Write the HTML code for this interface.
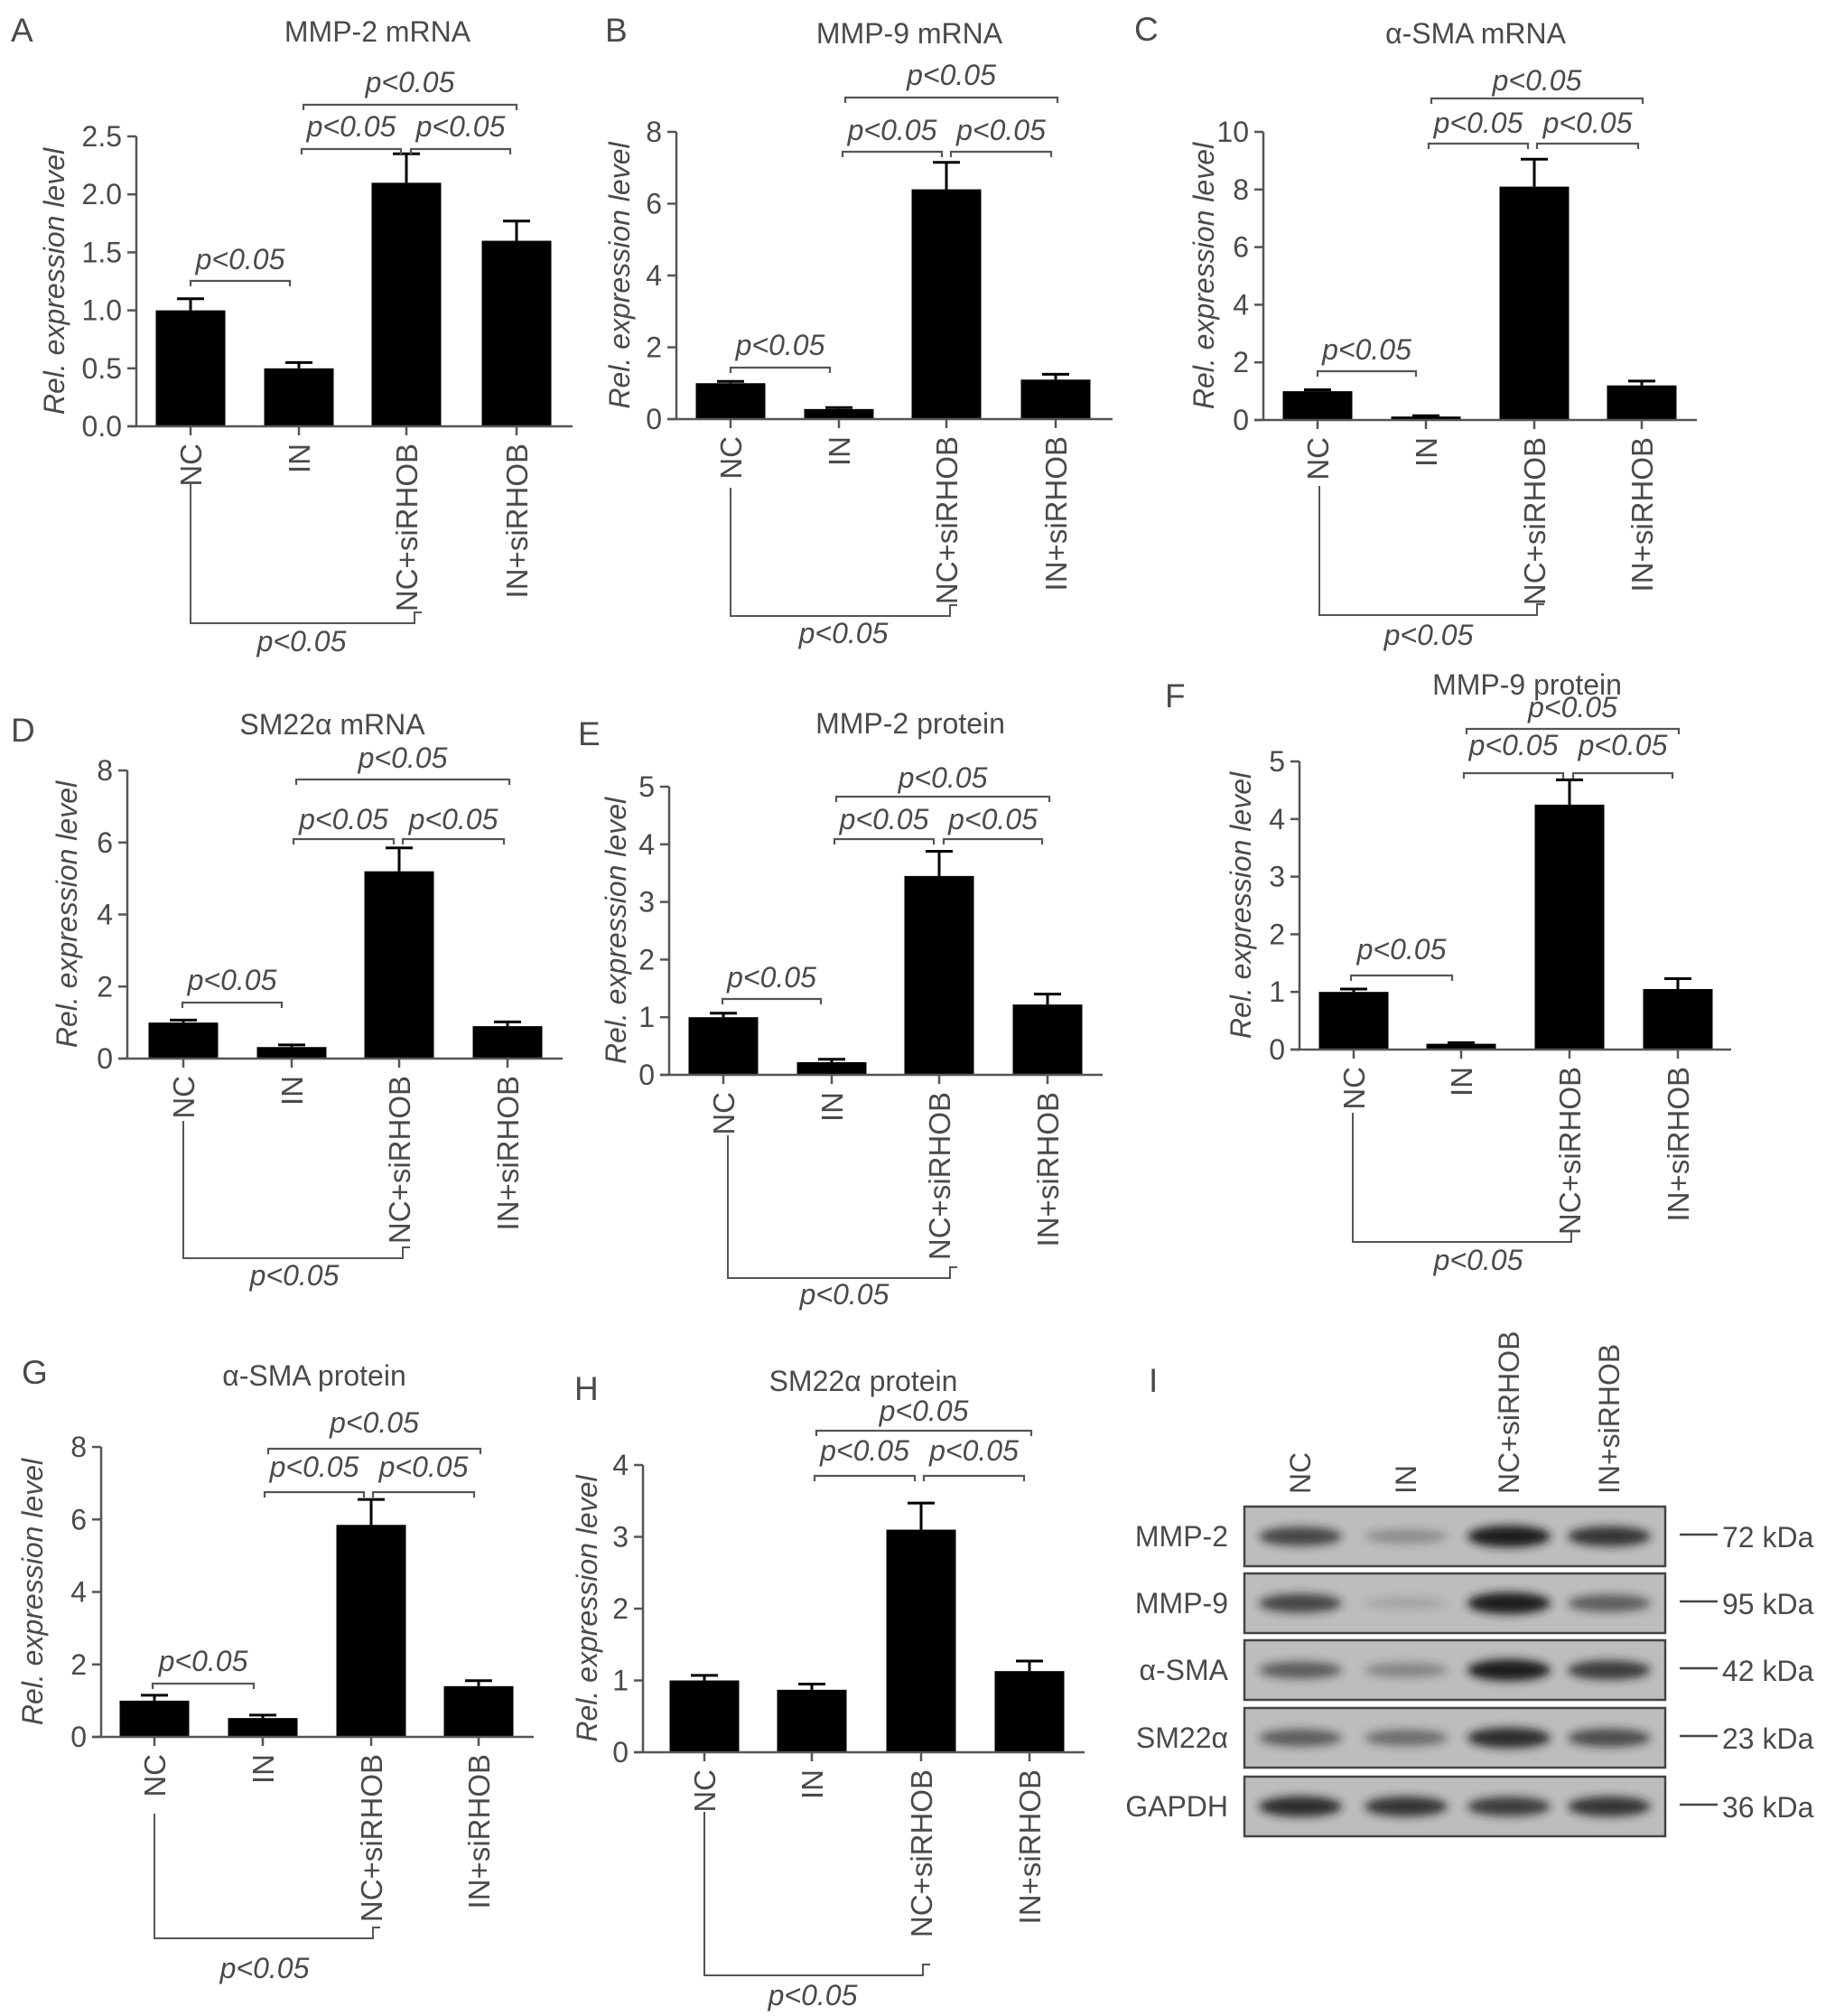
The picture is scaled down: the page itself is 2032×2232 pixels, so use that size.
<!DOCTYPE html>
<html><head><meta charset="utf-8"><style>
html,body{margin:0;padding:0;background:#fff}
svg{display:block}
text{font-family:"Liberation Sans",Arial,sans-serif;fill:#4a4a4a}
</style></head><body>
<svg id="fig" width="2032" height="2232" viewBox="0 0 2032 2232" xmlns="http://www.w3.org/2000/svg">
<defs><filter id="blur" x="-30%" y="-80%" width="160%" height="260%"><feGaussianBlur stdDeviation="5"/></filter></defs>
</svg>
<script>
// ---- data ----
const categories = ["NC","IN","NC+siRHOB","IN+siRHOB"];
const mmp2mRNA = [1.0,0.5,2.1,1.6];
const mmp2mRNAErr = [1.1,0.55,2.35,1.77];
const mmp9mRNA = [1.0,0.28,6.4,1.1];
const mmp9mRNAErr = [1.05,0.32,7.15,1.25];
const smaMRNA = [1.0,0.12,8.1,1.2];
const smaMRNAErr = [1.05,0.15,9.05,1.35];
const sm22mRNA = [1.0,0.32,5.2,0.9];
const sm22mRNAErr = [1.07,0.38,5.85,1.02];
const mmp2Prot = [1.0,0.22,3.45,1.22];
const mmp2ProtErr = [1.07,0.27,3.88,1.4];
const mmp9Prot = [1.0,0.1,4.25,1.05];
const mmp9ProtErr = [1.05,0.12,4.68,1.23];
const smaProt = [1.0,0.52,5.85,1.4];
const smaProtErr = [1.15,0.6,6.55,1.55];
const sm22Prot = [1.0,0.87,3.1,1.13];
const sm22ProtErr = [1.07,0.95,3.47,1.27];
const ticksA = [0,0.5,1,1.5,2,2.5];
const tickLabelsA = ["0.0","0.5","1.0","1.5","2.0","2.5"];
const ticks8 = [0,2,4,6,8];
const ticks10 = [0,2,4,6,8,10];
const ticks5 = [0,1,2,3,4,5];
const ticks4 = [0,1,2,3,4];
const blotRows = ["MMP-2","MMP-9","α-SMA","SM22α","GAPDH"];
const blotKDa = ["72 kDa","95 kDa","42 kDa","23 kDa","36 kDa"];
const blotMMP2 = [0.75,0.3,1.0,0.85];
const blotMMP9 = [0.75,0.15,1.0,0.6];
const blotSMA = [0.6,0.35,1.0,0.8];
const blotSM22 = [0.6,0.5,0.9,0.7];
const blotGAPDH = [0.9,0.85,0.8,0.85];

const NS="http://www.w3.org/2000/svg";
const svg=document.getElementById('fig');
function mk(tag,attrs,parent,txt){const e=document.createElementNS(NS,tag);for(const k in attrs)e.setAttribute(k,attrs[k]);if(txt!==undefined)e.textContent=txt;(parent||svg).appendChild(e);return e;}
const LC="#555";
const FS=32;

const panels=[
 {key:"a",letter:"A",lx:12,ly:46,title:"MMP-2 mRNA",tx:418,ty:46,ax:151,y0:472,yTop:151,ymax:2.5,xEnd:634,cats:[211,331,450,572],vals:mmp2mRNA,errs:mmp2mRNAErr,ticks:ticksA,tl:tickLabelsA,ytx:60,
  br:[[336,572,116,105],[334,444,165,154],[455,565,165,154],[211,321,311,301]],bot:[211,459,536,690,334,721]},
 {key:"b",letter:"B",lx:670,ly:46,title:"MMP-9 mRNA",tx:1007,ty:48,ax:749,y0:464,yTop:146,ymax:8,xEnd:1232,cats:[809,929,1048,1169],vals:mmp9mRNA,errs:mmp9mRNAErr,ticks:ticks8,ytx:686,
  br:[[936,1171,108,97],[933,1043,168,158],[1053,1164,168,158],[809,919,407,396]],bot:[809,1052,540,682,934,712]},
 {key:"c",letter:"C",lx:1256,ly:45,title:"α-SMA mRNA",tx:1634,ty:48,ax:1399,y0:465,yTop:146,ymax:10,xEnd:1879,cats:[1459,1579,1699,1818],vals:smaMRNA,errs:smaMRNAErr,ticks:ticks10,ytx:1333,
  br:[[1585,1819,109,103],[1582,1692,159,150],[1702,1814,159,150],[1459,1568,411,401]],bot:[1461,1702,538,681,1582,714]},
 {key:"d",letter:"D",lx:12,ly:821,title:"SM22α mRNA",tx:368,ty:813,ax:141,y0:1172,yTop:853,ymax:8,xEnd:623,cats:[203,323,442,562],vals:sm22mRNA,errs:sm22mRNAErr,ticks:ticks8,ytx:74,
  br:[[328,564,863,853],[325,436,929,921],[446,558,929,921],[202,312,1110,1099]],bot:[203,446,1241,1393,326,1423]},
 {key:"e",letter:"E",lx:640,ly:825,title:"MMP-2 protein",tx:1008,ty:812,ax:741,y0:1190,yTop:871,ymax:5,xEnd:1221,cats:[801,921,1040,1160],vals:mmp2Prot,errs:mmp2ProtErr,ticks:ticks5,ytx:682,
  br:[[926,1162,882,875],[924,1034,929,921],[1045,1154,929,921],[800,909,1106,1096]],bot:[806,1052,1257,1415,935,1444]},
 {key:"f",letter:"F",lx:1290,ly:783,title:"MMP-9 protein",tx:1691,ty:769,ax:1439,y0:1162,yTop:843,ymax:5,xEnd:1917,cats:[1499,1618,1738,1858],vals:mmp9Prot,errs:mmp9ProtErr,ticks:ticks5,ytx:1374,
  br:[[1624,1859,807,797],[1621,1731,856,839],[1742,1852,856,839],[1496,1608,1080,1065]],bot:[1498,1740,1232,1375,1637,1406]},
 {key:"g",letter:"G",lx:24,ly:1532,title:"α-SMA protein",tx:348,ty:1534,ax:112,y0:1923,yTop:1602,ymax:8,xEnd:591,cats:[171,291,411,530],vals:smaProt,errs:smaProtErr,ticks:ticks8,ytx:36,
  br:[[297,532,1604,1589],[293,403,1652,1638],[413,525,1652,1638],[169,281,1864,1853]],bot:[171,413,2008,2146,293,2190]},
 {key:"h",letter:"H",lx:636,ly:1550,title:"SM22α protein",tx:956,ty:1540,ax:712,y0:1940,yTop:1622,ymax:4,xEnd:1201,cats:[780,899,1020,1140],vals:sm22Prot,errs:sm22ProtErr,ticks:ticks4,ytx:650,
  br:[[904,1142,1584,1576],[902,1013,1634,1620],[1023,1134,1634,1620]],bot:[780,1022,2006,2187,900,2220]}
];

panels.forEach(p=>{
  const g=mk('g',{});
  
  
  const yS=v=>p.y0-(v/p.ymax)*(p.y0-p.yTop);
  const L=mk('text',{x:p.lx,y:p.ly,'font-size':37,fill:'#222'},g,p.letter);
  
  
  const T=mk('text',{x:p.tx,y:p.ty,'font-size':FS,'text-anchor':'middle'},g,p.title);
  
  
  p.vals.forEach((v,i)=>{
    const cx=p.cats[i];
    const b=mk('rect',{x:cx-38.5,y:yS(v),width:77,height:p.y0-yS(v),fill:'#000'},g);
    
    
    const e=mk('path',{d:`M${cx},${yS(v)}V${yS(p.errs[i])}M${cx-15},${yS(p.errs[i])}H${cx+15}`,stroke:'#000','stroke-width':3,fill:'none'},g);
    
    
  });
  const ya=mk('path',{d:`M${p.ax},${yS(p.ymax)}V${p.y0}`,stroke:LC,'stroke-width':2.5,fill:'none'},g);
  
  
  const xa=mk('path',{d:`M${p.ax-10},${p.y0}H${p.xEnd}`,stroke:LC,'stroke-width':2.5,fill:'none'},g);
  
  
  p.ticks.forEach((t,i)=>{
    mk('path',{d:`M${p.ax-10},${yS(t)}H${p.ax}`,stroke:LC,'stroke-width':2.5},g);
    const tl=mk('text',{x:p.ax-16,y:yS(t)+11,'font-size':FS,'text-anchor':'end'},g,p.tl?p.tl[i]:String(t));
    
    
  });
  p.cats.forEach((cx,i)=>{
    mk('path',{d:`M${cx},${p.y0}V${p.y0+10}`,stroke:LC,'stroke-width':2.5},g);
    const cl=mk('text',{x:0,y:0,'font-size':33,'text-anchor':'end',transform:`translate(${cx+12},${p.y0+19}) rotate(-90)`},g,categories[i]);
    
    
  });
  const yt=mk('text',{x:0,y:0,'font-size':FS,'font-style':'italic','text-anchor':'middle',transform:`translate(${p.ytx+11},${(p.y0+yS(p.ymax))/2}) rotate(-90)`},g,'Rel. expression level');
  
  
  p.br.forEach(b=>{
    const [x1,x2,y,ty]=b;
    const s=mk('path',{d:`M${x1},${y+6}V${y}H${x2}V${y+6}`,stroke:LC,'stroke-width':2.2,fill:'none'},g);
    
    
    const st=mk('text',{x:(x1+x2)/2,y:ty-3,'font-size':FS,'font-style':'italic','text-anchor':'middle'},g,'p<0.05');
    
    
  });
  const [bx1,bx2,byl,by,btx,bty]=p.bot;
  const bb=mk('path',{d:`M${bx1},${byl}V${by}H${bx2}V${by-12}H${bx2+8}`,stroke:LC,'stroke-width':2,fill:'none'},g);
  
  
  const bt=mk('text',{x:btx,y:bty,'font-size':FS,'font-style':'italic','text-anchor':'middle'},g,'p<0.05');
  
  
});

// ---- western blot panel I ----
const gi=mk('g',{});


const il=mk('text',{x:1272,y:1541,'font-size':37,fill:'#222'},gi,'I');


const laneX=[1440,1557,1671,1782];
laneX.forEach((x,i)=>{
  const t=mk('text',{x:0,y:0,'font-size':32,'text-anchor':'start',transform:`translate(${x+11},${1654}) rotate(-90)`},gi,categories[i]);
  
  
});
const rowTop=[1668,1742,1816,1891,1967];
const rowInt=[blotMMP2,blotMMP9,blotSMA,blotSM22,blotGAPDH];
blotRows.forEach((name,r)=>{
  const y=rowTop[r], h=66, cy=y+h/2;
  const bg=mk('rect',{x:1378,y:y,width:466,height:h,fill:'#bdbdbd',stroke:'#444','stroke-width':2.5},gi);
  
  
  rowInt[r].forEach((v,i)=>{
    const band=mk('ellipse',{cx:laneX[i],cy:cy,rx:46,ry:6+6*v,fill:'#1a1a1a',opacity:v,filter:'url(#blur)'},gi);
    
    
  });
  const rl=mk('text',{x:1360,y:cy+11,'font-size':32,'text-anchor':'end'},gi,name);
  
  
  mk('path',{d:`M1860,${cy-2}H1902`,stroke:'#444','stroke-width':2.5},gi);
  const kl=mk('text',{x:1907,y:cy+12,'font-size':32},gi,blotKDa[r]);
  
  
});
</script>
</body></html>
